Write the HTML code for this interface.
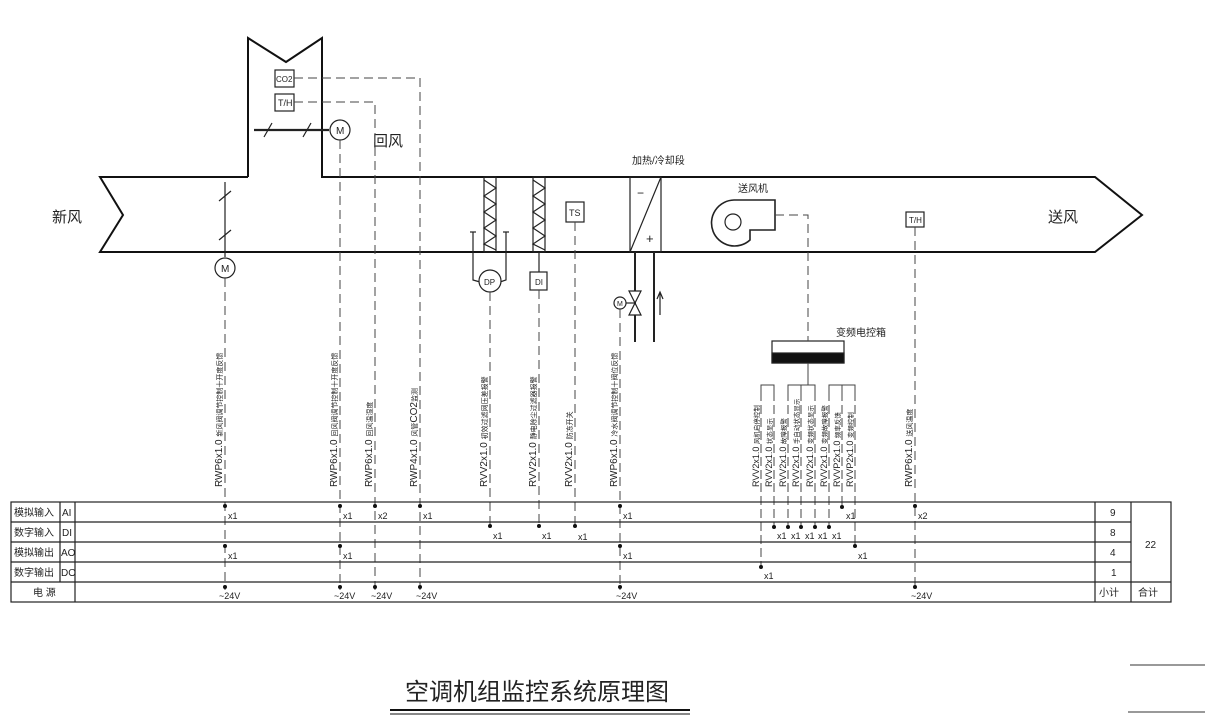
<!DOCTYPE html>
<html><head><meta charset="utf-8"><style>
html,body{margin:0;padding:0;background:#fff;}
svg{display:block;}
text{font-family:"Liberation Sans","Noto Sans CJK SC",sans-serif;fill:#222;}
</style></head><body>
<svg width="1210" height="723" viewBox="0 0 1210 723" xmlns="http://www.w3.org/2000/svg">
<g fill="none" stroke="#111" stroke-width="2">
  <polyline points="248,177 248,38 286,62 322,38 322,177 1095,177 1142,215 1095,252 100,252 123,215 100,177 248,177"/>
</g>
<g fill="none" stroke="#222" stroke-width="1.2">
  <line x1="254" y1="130" x2="329" y2="130" stroke-width="2.2"/>
  <line x1="264" y1="137" x2="272" y2="123"/><line x1="303" y1="137" x2="311" y2="123"/>
  <circle cx="340" cy="130" r="10" fill="#fff"/>
  <line x1="225" y1="182" x2="225" y2="257"/>
  <line x1="219" y1="201" x2="231" y2="191"/><line x1="219" y1="240" x2="231" y2="230"/>
  <circle cx="225" cy="268" r="10" fill="#fff"/>
  <rect x="275" y="70" width="19" height="17"/>
  <rect x="275" y="94" width="19" height="17"/>
  <rect x="484" y="177" width="12" height="75"/>
  <polyline points="484,180 496,188 484,196 496,204 484,212 496,220 484,228 496,236 484,244 496,250"/>
  <rect x="533" y="177" width="12" height="75"/>
  <polyline points="533,180 545,188 533,196 545,204 533,212 545,220 533,228 545,236 533,244 545,250"/>
  <polyline points="473,232 473,280 480,282"/><line x1="470" y1="232" x2="476" y2="232"/>
  <polyline points="506,232 506,280 500,282"/><line x1="503" y1="232" x2="509" y2="232"/>
  <circle cx="490" cy="281" r="11" fill="#fff"/>
  <rect x="530" y="272" width="17" height="18"/>
  <line x1="539" y1="252" x2="539" y2="272"/>
  <rect x="566" y="202" width="18" height="20"/>
  <rect x="630" y="177" width="31" height="75"/>
  <line x1="630" y1="252" x2="661" y2="177"/>
  <line x1="635" y1="252" x2="635" y2="342" stroke-width="2"/>
  <line x1="654" y1="252" x2="654" y2="342" stroke-width="2"/>
  <polygon points="629,291 641,291 629,315 641,315" fill="#fff"/>
  <line x1="626" y1="303" x2="635" y2="303"/>
  <circle cx="620" cy="303" r="6" fill="#fff"/>
  <line x1="660" y1="315" x2="660" y2="293"/>
  <polyline points="657,299 660,292 663,299"/>
  <path d="M775,200 L734,200 A23,23 0 1 0 750,240 L750,230 L775,230 Z" stroke-width="1.6"/>
  <circle cx="733" cy="222" r="8"/>
  <rect x="906" y="212" width="18" height="15"/>
  <rect x="772" y="341" width="72" height="22"/>
  <rect x="772" y="353" width="72" height="10" fill="#111"/>
</g>
<g font-size="9">
  <text x="276" y="82" font-size="8">CO2</text>
  <text x="278" y="106">T/H</text>
  <text x="336" y="134" font-size="10">M</text>
  <text x="221" y="272" font-size="10">M</text>
  <text x="484" y="285" font-size="8">DP</text>
  <text x="535" y="285" font-size="8">DI</text>
  <text x="569" y="216" font-size="9">TS</text>
  <text x="909" y="223" font-size="8">T/H</text>
  <text x="617" y="306" font-size="7">M</text>
  <text x="637" y="197" font-size="12">−</text>
  <text x="646" y="243" font-size="13">+</text>
</g>
<g font-size="15">
  <text x="52" y="222">新风</text>
  <text x="373" y="146">回风</text>
  <text x="1048" y="222">送风</text>
</g>
<text x="632" y="164" font-size="10">加热/冷却段</text>
<text x="738" y="192" font-size="10">送风机</text>
<text x="836" y="336" font-size="10">变频电控箱</text>
<g fill="none" stroke="#444" stroke-width="1" stroke-dasharray="9,5">
  <polyline points="294,78 420,78 420,590"/>
  <polyline points="294,102 375,102 375,590"/>
  <line x1="340" y1="140" x2="340" y2="590"/>
  <line x1="225" y1="278" x2="225" y2="590"/>
  <line x1="490" y1="292" x2="490" y2="525"/>
  <line x1="539" y1="290" x2="539" y2="525"/>
  <line x1="575" y1="222" x2="575" y2="525"/>
  <line x1="620" y1="309" x2="620" y2="590"/>
  <polyline points="775,215 808,215 808,341"/>
  <line x1="915" y1="227" x2="915" y2="590"/>
</g>
<g fill="none" stroke="#444" stroke-width="1">
  <line x1="808" y1="363" x2="808" y2="385"/>
  <polyline points="761,392 761,385 774,385 774,392"/>
  <polyline points="788,392 788,385 815,385 815,392"/>
  <line x1="801" y1="385" x2="801" y2="392"/>
  <polyline points="829,392 829,385 855,385 855,392"/>
  <line x1="842" y1="385" x2="842" y2="392"/>
  <g stroke-dasharray="9,4">
  <line x1="761" y1="392" x2="761" y2="567"/>
  <line x1="774" y1="392" x2="774" y2="527"/>
  <line x1="788" y1="392" x2="788" y2="527"/>
  <line x1="801" y1="392" x2="801" y2="527"/>
  <line x1="815" y1="392" x2="815" y2="527"/>
  <line x1="829" y1="392" x2="829" y2="527"/>
  <line x1="842" y1="392" x2="842" y2="507"/>
  <line x1="855" y1="392" x2="855" y2="546"/>
  </g>
</g>
<g font-size="10">
  <g transform="translate(222,487) rotate(-90)"><text>RWP6x1.0 <tspan font-size="7">新风阀调节控制十开度反馈</tspan></text></g>
  <g transform="translate(337,487) rotate(-90)"><text>RWP6x1.0 <tspan font-size="7">回风阀调节控制十开度反馈</tspan></text></g>
  <g transform="translate(372,487) rotate(-90)"><text>RWP6x1.0 <tspan font-size="7">回风温湿度</tspan></text></g>
  <g transform="translate(417,487) rotate(-90)"><text>RWP4x1.0 <tspan font-size="7">风管</tspan>CO2<tspan font-size="7">监测</tspan></text></g>
  <g transform="translate(487,487) rotate(-90)"><text>RVV2x1.0 <tspan font-size="7">初效过滤网压差报警</tspan></text></g>
  <g transform="translate(536,487) rotate(-90)"><text>RVV2x1.0 <tspan font-size="7">静电除尘过滤器报警</tspan></text></g>
  <g transform="translate(572,487) rotate(-90)"><text>RVV2x1.0 <tspan font-size="7">防冻开关</tspan></text></g>
  <g transform="translate(617,487) rotate(-90)"><text>RWP6x1.0 <tspan font-size="7">冷水阀调节控制十阀位反馈</tspan></text></g>
  <g transform="translate(912,487) rotate(-90)"><text>RWP6x1.0 <tspan font-size="7">送风温度</tspan></text></g>
</g>
<g font-size="9">
  <g transform="translate(759,487) rotate(-90)"><text>RVV2x1.0 <tspan font-size="6.5">风机启停控制</tspan></text></g>
  <g transform="translate(772,487) rotate(-90)"><text>RVV2x1.0 <tspan font-size="6.5">状态显示</tspan></text></g>
  <g transform="translate(786,487) rotate(-90)"><text>RVV2x1.0 <tspan font-size="6.5">故障报警</tspan></text></g>
  <g transform="translate(799,487) rotate(-90)"><text>RVV2x1.0 <tspan font-size="6.5">手自动状态显示</tspan></text></g>
  <g transform="translate(813,487) rotate(-90)"><text>RVV2x1.0 <tspan font-size="6.5">变频状态显示</tspan></text></g>
  <g transform="translate(827,487) rotate(-90)"><text>RVV2x1.0 <tspan font-size="6.5">变频故障报警</tspan></text></g>
  <g transform="translate(840,487) rotate(-90)"><text>RVVP2x1.0 <tspan font-size="6.5">频率反馈</tspan></text></g>
  <g transform="translate(853,487) rotate(-90)"><text>RVVP2x1.0 <tspan font-size="6.5">变频控制</tspan></text></g>
</g>
<g fill="none" stroke="#222" stroke-width="1.2">
  <rect x="11" y="502" width="1160" height="100"/>
  <line x1="11" y1="522" x2="1131" y2="522"/>
  <line x1="11" y1="542" x2="1131" y2="542"/>
  <line x1="11" y1="562" x2="1131" y2="562"/>
  <line x1="11" y1="582" x2="1171" y2="582"/>
  <line x1="60" y1="502" x2="60" y2="582"/>
  <line x1="75" y1="502" x2="75" y2="602"/>
  <line x1="1095" y1="502" x2="1095" y2="602"/>
  <line x1="1131" y1="502" x2="1131" y2="602"/>
</g>
<g font-size="10">
  <text x="14" y="516">模拟输入</text><text x="62" y="516">AI</text>
  <text x="14" y="536">数字输入</text><text x="62" y="536">DI</text>
  <text x="14" y="556">模拟输出</text><text x="61" y="556">AO</text>
  <text x="14" y="576">数字输出</text><text x="61" y="576">DO</text>
  <text x="33" y="596">电 源</text>
  <text x="1110" y="516">9</text><text x="1110" y="536">8</text><text x="1110" y="556">4</text><text x="1111" y="576">1</text>
  <text x="1099" y="596">小计</text><text x="1138" y="596">合计</text>
  <text x="1145" y="548">22</text>
</g>
<g fill="#111">
  <circle cx="225" cy="506" r="2"/><circle cx="340" cy="506" r="2"/><circle cx="375" cy="506" r="2"/><circle cx="420" cy="506" r="2"/><circle cx="620" cy="506" r="2"/><circle cx="842" cy="507" r="2"/><circle cx="915" cy="506" r="2"/>
  <circle cx="490" cy="526" r="2"/><circle cx="539" cy="526" r="2"/><circle cx="575" cy="526" r="2"/>
  <circle cx="774" cy="527" r="2"/><circle cx="788" cy="527" r="2"/><circle cx="801" cy="527" r="2"/><circle cx="815" cy="527" r="2"/><circle cx="829" cy="527" r="2"/>
  <circle cx="225" cy="546" r="2"/><circle cx="340" cy="546" r="2"/><circle cx="620" cy="546" r="2"/><circle cx="855" cy="546" r="2"/>
  <circle cx="761" cy="567" r="2"/>
  <circle cx="225" cy="587" r="2"/><circle cx="340" cy="587" r="2"/><circle cx="375" cy="587" r="2"/><circle cx="420" cy="587" r="2"/><circle cx="620" cy="587" r="2"/><circle cx="915" cy="587" r="2"/>
</g>
<g font-size="9">
  <text x="228" y="519">x1</text><text x="343" y="519">x1</text><text x="378" y="519">x2</text><text x="423" y="519">x1</text><text x="623" y="519">x1</text><text x="846" y="519">x1</text><text x="918" y="519">x2</text>
  <text x="493" y="539">x1</text><text x="542" y="539">x1</text><text x="578" y="540">x1</text>
  <text x="777" y="539">x1</text><text x="791" y="539">x1</text><text x="805" y="539">x1</text><text x="818" y="539">x1</text><text x="832" y="539">x1</text>
  <text x="228" y="559">x1</text><text x="343" y="559">x1</text><text x="623" y="559">x1</text><text x="858" y="559">x1</text>
  <text x="764" y="579">x1</text>
  <text x="219" y="599">~24V</text><text x="334" y="599">~24V</text><text x="371" y="599">~24V</text><text x="416" y="599">~24V</text><text x="616" y="599">~24V</text><text x="911" y="599">~24V</text>
</g>
<text x="405" y="700" font-size="24">空调机组监控系统原理图</text>
<line x1="390" y1="710" x2="690" y2="710" stroke="#111" stroke-width="2"/>
<line x1="390" y1="714" x2="690" y2="714" stroke="#111" stroke-width="1"/>
<line x1="1130" y1="665" x2="1205" y2="665" stroke="#333" stroke-width="1"/>
<line x1="1128" y1="712" x2="1205" y2="712" stroke="#333" stroke-width="1"/>
</svg>
</body></html>
